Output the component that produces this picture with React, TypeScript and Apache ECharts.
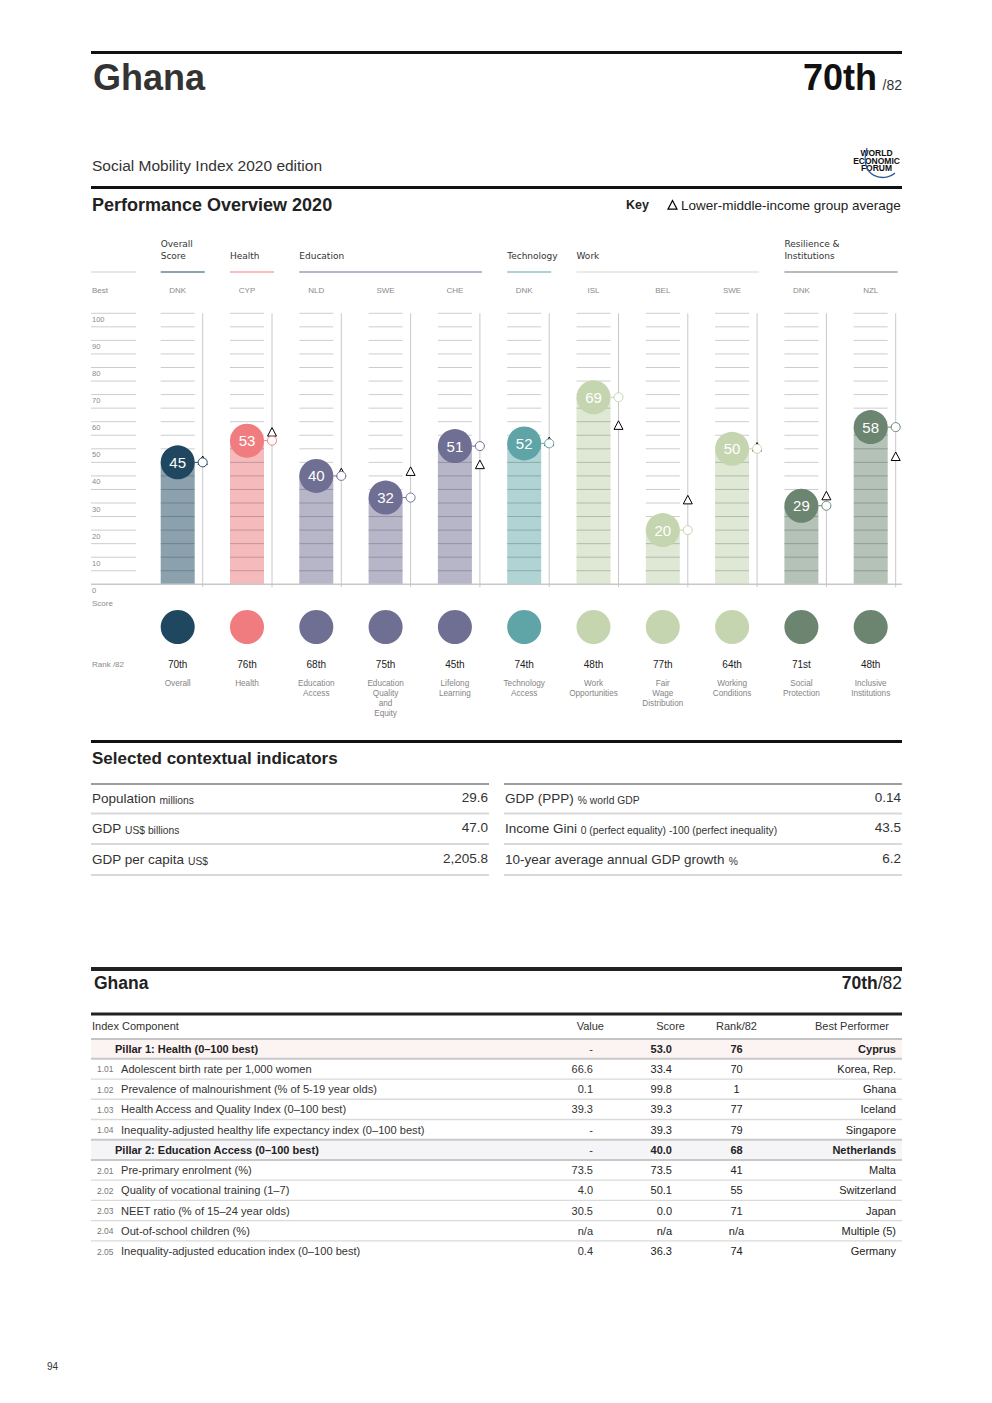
import React, { useEffect, useRef } from "react";
import * as echarts from "echarts";

const FONT = "'Liberation Sans', Arial, Helvetica, sans-serif";
const WIDE = "'DejaVu Sans', 'Liberation Sans', Arial, sans-serif";

// ---------- Performance overview data ----------
const PILLAR_NAMES = [
  "Overall",
  "Health",
  "Education\nAccess",
  "Education\nQuality\nand\nEquity",
  "Lifelong\nLearning",
  "Technology\nAccess",
  "Work\nOpportunities",
  "Fair\nWage\nDistribution",
  "Working\nConditions",
  "Social\nProtection",
  "Inclusive\nInstitutions",
];
const BEST_CODES = ["DNK", "CYP", "NLD", "SWE", "CHE", "DNK", "ISL", "BEL", "SWE", "DNK", "NZL"];
const SCORES = [45, 53, 40, 32, 51, 52, 69, 20, 50, 29, 58];
const RANKS = ["70th", "76th", "68th", "75th", "45th", "74th", "48th", "77th", "64th", "71st", "48th"];
const GROUP_AVERAGES = [45.5, 56, 41, 41.5, 44, 52.5, 58.5, 31, 50.5, 32.5, 47];
const CIRCLE_COLORS = ["#1f4760", "#f07c80", "#6f6e93", "#6f6e93", "#6f6e93", "#5fa5a8", "#c5d5af", "#c5d5af", "#c5d5af", "#6b8571", "#6b8571"];
const BAR_COLORS = ["#8ca1ae", "#f5babc", "#b7b6c9", "#b7b6c9", "#b7b6c9", "#b0d3d4", "#dfe8d5", "#dfe8d5", "#dfe8d5", "#b4c2b8", "#b4c2b8"];
const GRID_STEPS = [0, 5, 10, 15, 20, 25, 30, 35, 40, 45, 50, 55, 60, 65, 70, 75, 80, 85, 90, 95, 100];

const GROUP_TITLES = ["Overall\nScore", "Health", "Education", "Technology", "Work", "Resilience &\nInstitutions"];
const GROUP_FIRST = [0, 1, 2, 5, 6, 9];
const GROUP_LAST = [0, 1, 4, 5, 8, 10];
const GROUP_COLORS = ["#1f4760", "#f07c80", "#6f6e93", "#5fa5a8", "#d5d8c6", "#6b7d70"];

// ---------- Contextual indicators ----------
const CTX_LEFT_LABELS = ["Population", "GDP", "GDP per capita"];
const CTX_LEFT_UNITS = ["millions", "US$ billions", "US$"];
const CTX_LEFT_VALUES = ["29.6", "47.0", "2,205.8"];
const CTX_RIGHT_LABELS = ["GDP (PPP)", "Income Gini", "10-year average annual GDP growth"];
const CTX_RIGHT_UNITS = ["% world GDP", "0 (perfect equality) -100 (perfect inequality)", "%"];
const CTX_RIGHT_VALUES = ["0.14", "43.5", "6.2"];

// ---------- Table ----------
const TABLE_CODES = ["", "1.01", "1.02", "1.03", "1.04", "", "2.01", "2.02", "2.03", "2.04", "2.05"];
const TABLE_LABELS = [
  "Pillar 1: Health (0–100 best)",
  "Adolescent birth rate per 1,000 women",
  "Prevalence of malnourishment (% of 5-19 year olds)",
  "Health Access and Quality Index (0–100 best)",
  "Inequality-adjusted healthy life expectancy index (0–100 best)",
  "Pillar 2: Education Access (0–100 best)",
  "Pre-primary enrolment (%)",
  "Quality of vocational training (1–7)",
  "NEET ratio (% of 15–24 year olds)",
  "Out-of-school children (%)",
  "Inequality-adjusted education index (0–100 best)",
];
const TABLE_VALUES = ["-", "66.6", "0.1", "39.3", "-", "-", "73.5", "4.0", "30.5", "n/a", "0.4"];
const TABLE_SCORES = ["53.0", "33.4", "99.8", "39.3", "39.3", "40.0", "73.5", "50.1", "0.0", "n/a", "36.3"];
const TABLE_RANKS = ["76", "70", "1", "77", "79", "68", "41", "55", "71", "n/a", "74"];
const TABLE_BEST = ["Cyprus", "Korea, Rep.", "Ghana", "Iceland", "Singapore", "Netherlands", "Malta", "Switzerland", "Japan", "Multiple (5)", "Germany"];
const PILLAR_TINTS = ["#fcf3f3", "#f5f5f8"];

// ---------- layout ----------
const GRID_LEFT = 143.05;
const GRID_TOP = 313.3;
const GRID_W = 762.3;
const GRID_H = 271;
const BAND = GRID_W / 11;
const colX = (i: number) => GRID_LEFT + (i + 0.5) * BAND;

function T(text: string, x: number, y: number, size: number, o: any = {}) {
  const align = o.align || "left";
  const va = o.va || "middle";
  const fam = o.family || FONT;
  return {
    type: "text",
    silent: true,
    z: 10,
    style: {
      text,
      x,
      y,
      fill: o.fill || "#333",
      font: `${o.weight || "normal"} ${size}px ${fam}`,
      fontSize: size,
      fontFamily: fam,
      fontWeight: o.weight || "normal",
      align,
      textAlign: align,
      verticalAlign: va,
      textVerticalAlign: va,
      lineHeight: o.lineHeight,
      rich: o.rich,
    },
  };
}
function L(x1: number, y1: number, x2: number, y2: number, stroke: string, lw: number) {
  return { type: "line", silent: true, z: 5, shape: { x1, y1, x2, y2 }, style: { stroke, lineWidth: lw } };
}
function tri(x: number, y: number, s: number) {
  return {
    type: "polygon",
    silent: true,
    z: 10,
    shape: { points: [[x, y - s * 0.55], [x - s * 0.5, y + s * 0.4], [x + s * 0.5, y + s * 0.4]] },
    style: { fill: "#fff", stroke: "#000", lineWidth: 1.2 },
  };
}

function buildGraphic() {
  const g: any[] = [];
  // Header
  g.push(L(91, 52.5, 902, 52.5, "#111", 3));
  g.push(T("Ghana", 93, 77, 36, { weight: "bold", fill: "#333" }));
  g.push(T("70th", 877, 77, 36, { weight: "bold", fill: "#111", align: "right" }));
  g.push(T("/82", 902, 85, 14, { align: "right", fill: "#333" }));
  g.push(T("Social Mobility Index 2020 edition", 92, 165, 15.5, { fill: "#333" }));
  // logo
  g.push(T("WORLD", 876.5, 153, 8.5, { weight: "bold", fill: "#111", align: "center" }));
  g.push(T("ECONOMIC", 876.5, 160.5, 8.5, { weight: "bold", fill: "#111", align: "center" }));
  g.push(T("FORUM", 876.5, 168, 8.5, { weight: "bold", fill: "#111", align: "center" }));
  g.push({
    type: "bezierCurve",
    silent: true,
    z: 11,
    shape: { x1: 867, y1: 148, cpx1: 858, cpy1: 177, cpx2: 884, cpy2: 183, x2: 895, y2: 173 },
    style: { stroke: "#2d5a9c", lineWidth: 1.3, fill: "none" },
  });
  g.push(L(91, 187.5, 902, 187.5, "#111", 3));
  g.push(T("Performance Overview 2020", 92, 205, 18, { weight: "bold", fill: "#222" }));
  g.push(T("Key", 626, 205, 12.5, { weight: "bold", fill: "#222" }));
  g.push(tri(672.5, 205.5, 9));
  g.push(T("Lower-middle-income group average", 681, 205, 13.5, { fill: "#222" }));

  // Chart headers
  g.push(L(91, 272, 136, 272, "#cfcfcf", 1));
  GROUP_TITLES.forEach((title, k) => {
    const x1 = colX(GROUP_FIRST[k]) - 17;
    const x2 = colX(GROUP_LAST[k]) + 27;
    const lines = title.split("\n");
    lines.forEach((ln, j) => {
      g.push(T(ln, x1, 256 - (lines.length - 1 - j) * 12, 9, { fill: "#333", family: WIDE }));
    });
    g.push(L(x1, 272, x2, 272, GROUP_COLORS[k], 1.2));
  });
  g.push(T("Best", 92, 290, 8, { fill: "#8a8a8a" }));
  g.push(T("Score", 92, 603, 8, { fill: "#8a8a8a" }));
  g.push(T("Rank /82", 92, 664, 8, { fill: "#8a8a8a" }));

  // Contextual indicators
  g.push(L(91, 741.5, 902, 741.5, "#111", 3));
  g.push(T("Selected contextual indicators", 92, 758, 17, { weight: "bold", fill: "#222" }));
  const ctxRows = [797, 827.5, 858];
  const ctxLines = [813.5, 844, 875];
  g.push(L(91, 784, 489, 784, "#9e9e9e", 2));
  g.push(L(504, 784, 902, 784, "#9e9e9e", 2));
  const rich = {
    a: { fontSize: 13.5, fontFamily: FONT, fill: "#333", color: "#333", verticalAlign: "bottom", lineHeight: 16 },
    b: { fontSize: 10.3, fontFamily: FONT, fill: "#333", color: "#333", verticalAlign: "bottom", lineHeight: 13.5 },
  };
  ctxRows.forEach((y, r) => {
    g.push(T(`{a|${CTX_LEFT_LABELS[r]}} {b|${CTX_LEFT_UNITS[r]}}`, 92, y, 13.5, { rich }));
    g.push(T(CTX_LEFT_VALUES[r], 488, y, 13.5, { align: "right" }));
    g.push(T(`{a|${CTX_RIGHT_LABELS[r]}} {b|${CTX_RIGHT_UNITS[r]}}`, 505, y, 13.5, { rich }));
    g.push(T(CTX_RIGHT_VALUES[r], 901, y, 13.5, { align: "right" }));
    g.push(L(91, ctxLines[r], 489, ctxLines[r], "#d9d9d9", 2));
    g.push(L(504, ctxLines[r], 902, ctxLines[r], "#d9d9d9", 2));
  });

  // Table
  g.push(L(91, 969, 902, 969, "#222", 4));
  g.push(T("Ghana", 94, 983, 17.5, { weight: "bold", fill: "#222" }));
  g.push(
    T("{a|70th}{b|/82}", 902, 983, 17.5, {
      align: "right",
      rich: {
        a: { fontSize: 17.5, fontWeight: "bold", fontFamily: FONT, fill: "#222", color: "#222" },
        b: { fontSize: 17.5, fontFamily: FONT, fill: "#222", color: "#222" },
      },
    })
  );
  g.push(L(91, 1014, 902, 1014, "#222", 3));
  g.push(T("Index Component", 92, 1026, 11, { fill: "#333" }));
  g.push(T("Value", 604, 1026, 11, { fill: "#333", align: "right" }));
  g.push(T("Score", 685, 1026, 11, { fill: "#333", align: "right" }));
  g.push(T("Rank/82", 757, 1026, 11, { fill: "#333", align: "right" }));
  g.push(T("Best Performer", 889, 1026, 11, { fill: "#333", align: "right" }));
  g.push(L(91, 1039, 902, 1039, "#c4c4c4", 2));
  let pillarCount = 0;
  TABLE_LABELS.forEach((label, r) => {
    const y = 1048.7 + r * 20.23;
    const pillar = TABLE_CODES[r] === "";
    if (pillar) {
      g.push({
        type: "rect",
        silent: true,
        z: 1,
        shape: { x: 91, y: y - 9, width: 811, height: 18.5 },
        style: { fill: PILLAR_TINTS[pillarCount % PILLAR_TINTS.length] },
      });
      pillarCount++;
      g.push(T(label, 115, y, 11, { weight: "bold", fill: "#222" }));
    } else {
      g.push(T(TABLE_CODES[r], 97, y + 0.5, 8.5, { fill: "#777" }));
      g.push(T(label, 121, y, 11.1, { fill: "#333" }));
    }
    const w = pillar ? "bold" : "normal";
    g.push(T(TABLE_VALUES[r], 593, y, 11, { align: "right", fill: "#333" }));
    g.push(T(TABLE_SCORES[r], 672, y, 11, { align: "right", weight: w, fill: "#222" }));
    g.push(T(TABLE_RANKS[r], 736.5, y, 11, { align: "center", weight: w, fill: "#222" }));
    g.push(T(TABLE_BEST[r], 896, y, 11, { align: "right", weight: w, fill: "#222" }));
    if (r < TABLE_LABELS.length - 1) {
      const nextPillar = TABLE_CODES[r + 1] === "";
      const strong = pillar || nextPillar;
      g.push(L(91, y + 10.1, 902, y + 10.1, strong ? "#c8c8c8" : "#dadada", strong ? 2 : 1.3));
    }
  });

  g.push(T("94", 47, 1366, 10, { fill: "#333" }));
  return g;
}

function buildOption(): any {
  return {
    animation: false,
    backgroundColor: "#fff",
    grid: { left: GRID_LEFT, top: GRID_TOP, width: GRID_W, height: GRID_H, containLabel: false },
    xAxis: {
      type: "category",
      data: PILLAR_NAMES,
      axisLine: { show: false },
      axisTick: { show: false },
      axisLabel: { show: false },
      splitLine: { show: false },
    },
    yAxis: {
      type: "value",
      min: 0,
      max: 100,
      interval: 10,
      axisLine: { show: false },
      axisTick: { show: false },
      splitLine: { show: false },
      axisLabel: {
        align: "left",
        margin: GRID_LEFT - 92,
        fontSize: 7.5,
        color: "#8a8a8a",
        fontFamily: FONT,
        verticalAlign: "top",
        padding: [2, 0, 0, 0],
      },
    },
    graphic: { elements: buildGraphic() },
    series: [
      {
        type: "bar",
        silent: true,
        z: 1,
        barWidth: 34,
        data: SCORES.map((v, i) => ({ value: v, itemStyle: { color: BAR_COLORS[i] } })),
      },
      {
        type: "custom",
        silent: true,
        z: 2,
        clip: false,
        data: GRID_STEPS.map((v) => [0, v]),
        renderItem: (params: any, api: any) => {
          const v = api.value(1);
          const children: any[] = [];
          const y = api.coord([0, v])[1];
          if (v === 0) {
            children.push({ type: "line", shape: { x1: 91, y1: y, x2: 902, y2: y }, style: { stroke: "#c8c8c8", lineWidth: 1.5 } });
          } else {
            children.push({ type: "line", shape: { x1: 91, y1: y, x2: 136, y2: y }, style: { stroke: "rgba(0,0,0,0.2)", lineWidth: 1 } });
            for (let c = 0; c < SCORES.length; c++) {
              const p = api.coord([c, v]);
              children.push({
                type: "line",
                shape: { x1: p[0] - 17, y1: p[1], x2: p[0] + 17, y2: p[1] },
                style: { stroke: "rgba(0,0,0,0.2)", lineWidth: 1 },
              });
            }
          }
          return { type: "group", children };
        },
      },
      {
        type: "custom",
        silent: true,
        z: 3,
        clip: false,
        data: SCORES.map((v, i) => [i, v]),
        renderItem: (params: any, api: any) => {
          const i = params.dataIndex;
          const v = api.value(1);
          const p = api.coord([api.value(0), v]);
          const cx = p[0];
          const cy = p[1];
          const top = api.coord([api.value(0), 100])[1];
          const base = api.coord([api.value(0), 0])[1];
          const avgY = api.coord([api.value(0), GROUP_AVERAGES[i]])[1];
          const lx = cx + 25;
          const col = CIRCLE_COLORS[i];
          const s = 9;
          return {
            type: "group",
            children: [
              { type: "line", shape: { x1: lx, y1: top, x2: lx, y2: base + 3 }, style: { stroke: "#c8c8c8", lineWidth: 1 } },
              { type: "line", shape: { x1: cx + 17, y1: cy, x2: lx - 4.5, y2: cy }, style: { stroke: col, lineWidth: 1 } },
              {
                type: "polygon",
                shape: { points: [[lx, avgY - s * 0.55], [lx - s * 0.5, avgY + s * 0.4], [lx + s * 0.5, avgY + s * 0.4]] },
                style: { fill: "#fff", stroke: "#000", lineWidth: 1 },
              },
              { type: "circle", shape: { cx: lx, cy, r: 4.5 }, style: { fill: "#fff", stroke: col, lineWidth: 1 } },
              { type: "circle", shape: { cx, cy, r: 17 }, style: { fill: col } },
              {
                type: "text",
                style: {
                  text: String(v),
                  x: cx,
                  y: cy,
                  fill: "#fff",
                  font: `normal 15px ${FONT}`,
                  fontSize: 15,
                  fontFamily: FONT,
                  align: "center",
                  textAlign: "center",
                  verticalAlign: "middle",
                  textVerticalAlign: "middle",
                },
              },
            ],
          };
        },
      },
      {
        type: "custom",
        silent: true,
        z: 3,
        clip: false,
        data: SCORES.map((v, i) => [i, v]),
        renderItem: (params: any, api: any) => {
          const i = params.dataIndex;
          const x = api.coord([api.value(0), 0])[0];
          const text = (t: string, y: number, size: number, fill: string, va = "middle", lh?: number) => ({
            type: "text",
            style: {
              text: t,
              x,
              y,
              fill,
              font: `normal ${size}px ${FONT}`,
              fontSize: size,
              fontFamily: FONT,
              align: "center",
              textAlign: "center",
              verticalAlign: va,
              textVerticalAlign: va,
              lineHeight: lh,
            },
          });
          return {
            type: "group",
            children: [
              text(BEST_CODES[i], 290, 8, "#8a8a8a"),
              { type: "circle", shape: { cx: x, cy: 627, r: 17 }, style: { fill: CIRCLE_COLORS[i] } },
              text(RANKS[i], 664, 10, "#222"),
              text(PILLAR_NAMES[i], 678, 8.2, "#858585", "top", 10),
            ],
          };
        },
      },
    ],
  };
}

export default function App() {
  const ref = useRef<HTMLDivElement>(null);
  useEffect(() => {
    if (!ref.current) return;
    const chart = echarts.init(ref.current, undefined, { renderer: "svg" });
    chart.setOption(buildOption());
    return () => chart.dispose();
  }, []);
  return (
    <div
      ref={ref}
      style={{ position: "absolute", left: 0, top: 0, width: 992, height: 1403, background: "#fff" }}
    />
  );
}
